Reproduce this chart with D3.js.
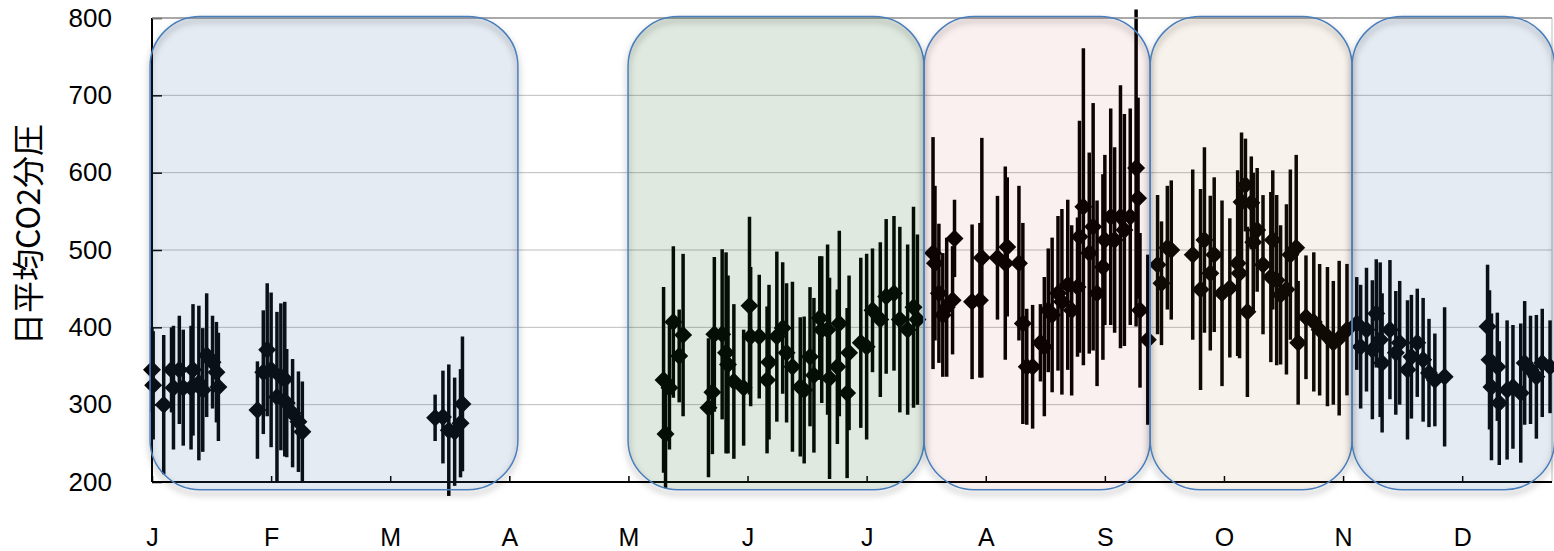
<!DOCTYPE html>
<html>
<head>
<meta charset="utf-8">
<script src="https://cdn.jsdelivr.net/npm/d3@7"></script>
<style>
  body { margin: 0; background: #fff; }
  svg { display: block; }
</style>
</head>
<body>
<div id="chart"></div>
<script>
// month labels, one per month start (axis uses 30.5 day steps)
const months = ["J", "F", "M", "A", "M", "J", "J", "A", "S", "O", "N", "D"];
const yTicks = [200, 300, 400, 500, 600, 700, 800];

// [day, mean pCO2, sd]
const winterEarly = [
  [0, 345, 55], [0.3, 325, 70], [3, 300, 90], [5, 345, 55], [5.5, 322, 80],
  [7, 345, 70], [8, 322, 75], [10, 322, 80], [10.5, 345, 85], [12, 328, 100],
  [13, 319, 80], [14, 364, 80], [15.5, 355, 60], [16.5, 342, 65], [17, 323, 70],
  [27, 293, 63], [28.5, 342, 80], [29.5, 371, 86], [30.5, 345, 100], [32, 310, 110],
  [33, 336, 95], [34, 333, 100], [34.5, 302, 70], [36, 289, 70], [37.5, 278, 65],
  [38.5, 265, 65],
  [72.5, 283, 30], [74.5, 284, 60], [76, 267, 85], [77.5, 265, 70], [79, 276, 70],
  [79.5, 301, 87]
];
const spring = [
  [131, 332, 120], [131.5, 262, 70], [132.5, 322, 80], [133.5, 407, 98], [135, 363, 60],
  [136, 390, 105], [142.5, 296, 90], [143.5, 316, 80], [144, 391, 100], [146, 391, 110],
  [147, 367, 130], [147.5, 352, 115], [149, 330, 100], [151.5, 322, 75], [153, 428, 115],
  [153.3, 388, 90], [155.5, 388, 80], [157.5, 332, 95], [158, 355, 100], [160, 388, 110],
  [161.5, 399, 85], [162.5, 367, 90], [164, 349, 110], [166, 323, 90], [167, 319, 95],
  [168.5, 362, 90], [169.5, 338, 100], [171, 412, 80], [171.5, 397, 95], [173, 397, 110],
  [173.5, 334, 130], [175.5, 349, 100], [176, 405, 120], [178, 315, 110], [178.5, 367, 100],
  [181.5, 380, 110], [183, 375, 120], [184.5, 422, 80], [186.5, 410, 100], [188, 440, 100],
  [190, 444, 100], [191.5, 410, 120], [193.5, 397, 110], [195, 426, 130], [196, 410, 110]
];
const summer = [
  [200, 496, 150], [200.5, 483, 100], [201.5, 444, 90], [202.5, 416, 80], [203.5, 426, 90],
  [205, 435, 70], [205.5, 515, 50], [210, 433, 100], [212, 435, 100], [212.5, 490, 155],
  [216.5, 490, 80], [218.5, 483, 125], [219, 504, 90], [222, 483, 100], [223, 405, 130],
  [224, 349, 75], [225.5, 349, 80], [227.5, 380, 50], [228.5, 375, 90], [229.5, 422, 80],
  [230.5, 416, 100], [232, 444, 100], [233, 433, 120], [234.5, 455, 110], [235.5, 422, 110],
  [237, 452, 90], [237.5, 517, 150], [238.5, 556, 205], [240, 496, 130], [241, 530, 160],
  [242, 444, 120], [243.5, 478, 120], [244, 513, 110], [245.5, 543, 140], [246.5, 513, 120],
  [248, 543, 170], [249, 526, 150], [250.5, 543, 140], [252, 606, 205], [252.5, 567, 130],
  [253, 422, 100], [255, 384, 110]
];
const autumn = [
  [257.5, 481, 90], [258.5, 457, 80], [260, 503, 80], [261, 500, 90], [266.5, 494, 110],
  [268.5, 449, 130], [269.5, 513, 120], [271, 470, 100], [272, 494, 100], [274, 444, 120],
  [276, 451, 90], [278, 483, 120], [278.5, 470, 110], [279, 562, 90], [280, 584, 60],
  [280.5, 420, 110], [281.5, 561, 60], [282, 510, 90], [283, 526, 80], [284.5, 481, 90],
  [286.5, 465, 110], [287, 513, 90], [288, 461, 110], [289, 442, 90], [290.5, 449, 110],
  [291.5, 494, 110], [293, 503, 120], [293.5, 380, 80], [295.5, 413, 80], [297.5, 407, 90],
  [299, 397, 85], [301, 388, 90], [302.5, 380, 80], [304, 386, 100], [306, 397, 85]
];
const winterLate = [
  [308.5, 405, 60], [309.5, 375, 80], [311, 397, 80], [312.5, 371, 90], [313.5, 418, 70],
  [314.5, 384, 100], [315, 354, 90], [317, 397, 90], [318.5, 367, 80], [319.5, 380, 80],
  [321.5, 345, 90], [322.5, 362, 80], [324, 380, 70], [325.5, 358, 80], [327, 341, 70],
  [328.5, 332, 60], [331, 336, 90],
  [342, 401, 80], [342.5, 358, 90], [343, 323, 95], [344.5, 349, 70], [345, 302, 80],
  [347, 319, 90], [348.5, 323, 80], [350.5, 315, 90], [351.5, 354, 80], [353, 345, 70],
  [354.5, 336, 80], [356, 354, 70], [358, 349, 60]
];

// season boxes in day units
const seasons = [
  { from: -0.5, to: 93.7, fill: "rgba(70,110,170,0.14)" },
  { from: 121.9, to: 197.7, fill: "rgba(30,100,25,0.14)" },
  { from: 197.7, to: 255.6, fill: "rgba(200,40,40,0.07)" },
  { from: 255.6, to: 307.3, fill: "rgba(180,110,40,0.09)" },
  { from: 307.3, to: 359.2, fill: "rgba(70,110,170,0.14)" }
];

const data = [].concat(winterEarly, spring, summer, autumn, winterLate);

const width = 1554;
const height = 551;
const margin = { left: 152, right: 2, top: 18, bottom: 69 };

const svg = d3.select("#chart").append("svg")
  .attr("width", width)
  .attr("height", height);

const defs = svg.append("defs");
const shadow = defs.append("filter").attr("id", "shadow")
  .attr("x", "-5%").attr("y", "-5%").attr("width", "110%").attr("height", "115%");
shadow.append("feDropShadow")
  .attr("dx", 0).attr("dy", 4).attr("stdDeviation", 3)
  .attr("flood-color", "#000").attr("flood-opacity", 0.5);

const x = d3.scaleLinear()
  .domain([0, 358.5])
  .range([margin.left, width - margin.right]);

const y = d3.scaleLinear()
  .domain([200, 800])
  .range([height - margin.bottom, margin.top]);

// gridlines
svg.append("g")
  .selectAll("line")
  .data(yTicks.slice(1))
  .join("line")
  .attr("x1", margin.left)
  .attr("x2", width - margin.right)
  .attr("y1", (d) => y(d))
  .attr("y2", (d) => y(d))
  .attr("stroke", "#bdbdbd")
  .attr("stroke-width", 1);

// right border
svg.append("line")
  .attr("x1", width - margin.right).attr("x2", width - margin.right)
  .attr("y1", y(800)).attr("y2", y(200))
  .attr("stroke", "#bdbdbd");

// error bars
svg.append("g")
  .selectAll("line")
  .data(data)
  .join("line")
  .attr("x1", (d) => x(d[0]))
  .attr("x2", (d) => x(d[0]))
  .attr("y1", (d) => y(d[1] - d[2]))
  .attr("y2", (d) => y(d[1] + d[2]))
  .attr("stroke", "#000")
  .attr("stroke-width", 3.5);

// diamonds
const r = 9;
svg.append("g")
  .selectAll("path")
  .data(data)
  .join("path")
  .attr("transform", (d) => `translate(${x(d[0])},${y(d[1])})`)
  .attr("d", `M0,${-r}L${r},0L0,${r}L${-r},0Z`)
  .attr("fill", "#000");

// axes
const yAxis = d3.axisLeft(y)
  .tickValues(yTicks)
  .tickSize(-10)
  .tickPadding(40)
  .tickFormat((d) => d);

svg.append("g")
  .attr("transform", `translate(${margin.left},0)`)
  .call(yAxis)
  .call((g) => g.select(".domain").remove())
  .call((g) => g.selectAll(".tick line").attr("stroke", "#000").attr("stroke-width", 1.5))
  .call((g) => g.selectAll(".tick text")
    .attr("font-family", "Liberation Sans, Arial, sans-serif")
    .attr("font-size", 26)
    .attr("fill", "#000"));

const xAxis = d3.axisBottom(x)
  .tickValues(months.map((m, i) => i * 30.5))
  .tickSize(-6)
  .tickPadding(46)
  .tickFormat((d, i) => months[i]);

svg.append("g")
  .attr("transform", `translate(0,${y(200)})`)
  .call(xAxis)
  .call((g) => g.select(".domain").remove())
  .call((g) => g.selectAll(".tick line").attr("stroke", "#000").attr("stroke-width", 1.5))
  .call((g) => g.selectAll(".tick text")
    .attr("font-family", "Liberation Sans, Arial, sans-serif")
    .attr("font-size", 25)
    .attr("fill", "#000"));

// frame: left and bottom black, top grey
svg.append("line")
  .attr("x1", margin.left).attr("x2", margin.left)
  .attr("y1", y(800)).attr("y2", y(200))
  .attr("stroke", "#000").attr("stroke-width", 2);
svg.append("line")
  .attr("x1", margin.left).attr("x2", width - margin.right)
  .attr("y1", y(200)).attr("y2", y(200))
  .attr("stroke", "#000").attr("stroke-width", 2);
svg.append("line")
  .attr("x1", margin.left).attr("x2", width - margin.right)
  .attr("y1", y(800)).attr("y2", y(800))
  .attr("stroke", "#999").attr("stroke-width", 1.5);

// season boxes drawn over the data, like the shapes in the original sheet
const boxes = svg.append("g");
boxes.selectAll("rect.fill")
  .data(seasons)
  .join("rect")
  .attr("class", "fill")
  .attr("x", (d) => x(d.from))
  .attr("y", y(802))
  .attr("width", (d) => x(d.to) - x(d.from))
  .attr("height", y(190) - y(802))
  .attr("rx", 50)
  .attr("ry", 50)
  .attr("fill", (d) => d.fill);

// outline with a soft shadow only on the edge
boxes.selectAll("rect.edge")
  .data(seasons)
  .join("rect")
  .attr("class", "edge")
  .attr("x", (d) => x(d.from))
  .attr("y", y(802))
  .attr("width", (d) => x(d.to) - x(d.from))
  .attr("height", y(190) - y(802))
  .attr("rx", 50)
  .attr("ry", 50)
  .attr("fill", "none")
  .attr("stroke", "#4a7ebb")
  .attr("stroke-width", 1.5)
  .attr("filter", "url(#shadow)");

// y title
svg.append("text")
  .attr("transform", `translate(40,${y(520)}) rotate(-90)`)
  .attr("text-anchor", "middle")
  .attr("font-family", "Noto Sans CJK JP, sans-serif")
  .attr("font-size", 32)
  .attr("fill", "#000")
  .text("日平均CO2分圧");
</script>
</body>
</html>
